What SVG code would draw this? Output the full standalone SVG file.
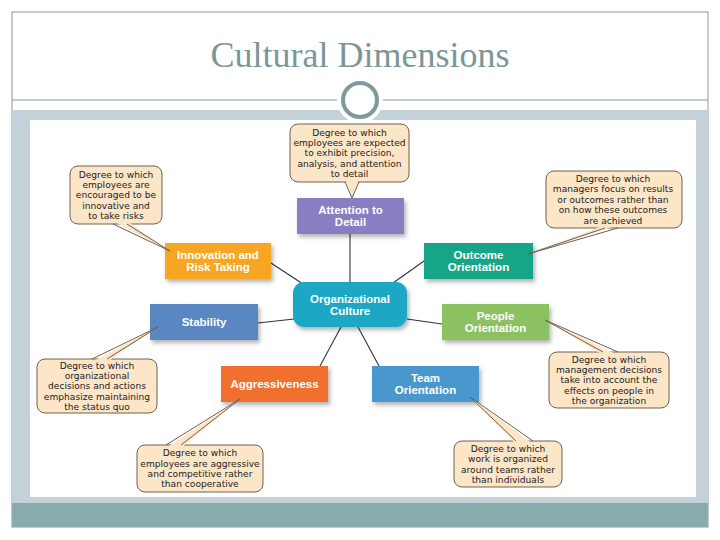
<svg xmlns="http://www.w3.org/2000/svg" width="720" height="540" viewBox="0 0 720 540">
<defs>
<filter id="sh" x="-20%" y="-20%" width="150%" height="160%">
<feDropShadow dx="2" dy="3" stdDeviation="2" flood-color="#000" flood-opacity="0.3"/>
</filter>
<style>
.node{filter:url(#sh);}
.nt{font-family:"Liberation Sans",Arial,sans-serif;font-weight:bold;font-size:11.5px;fill:#fff;text-anchor:middle;}
.co{fill:#fde6c8;stroke:#6e6050;stroke-width:1;}
.tf{fill:#fde6c8;stroke:none;}
.tl{fill:none;stroke:#6e6050;stroke-width:1;stroke-linejoin:miter;}
.ct{font-family:"DejaVu Sans","Liberation Sans",sans-serif;font-size:9.1px;fill:#222;text-anchor:middle;}
.conn line{stroke:#333;stroke-width:1.1;}
</style>
</defs>
<rect x="0" y="0" width="720" height="540" fill="#fff"/>
<rect x="12" y="12" width="696" height="515" fill="#fff" stroke="#8a9a9a" stroke-width="1"/>
<text x="360" y="67" font-family="'Liberation Serif','Times New Roman',serif" font-size="36" fill="#7b9696" text-anchor="middle">Cultural Dimensions</text>
<rect x="12" y="110" width="696" height="393" fill="#c5d1d8"/>
<rect x="30" y="120" width="666" height="377" fill="#fff"/>
<rect x="12" y="503" width="696" height="24" fill="#8aabab"/>
<line x1="12" y1="100" x2="708" y2="100" stroke="#8a9a9a" stroke-width="1"/>
<circle cx="360" cy="100" r="23" fill="#fff"/>
<circle cx="360" cy="100" r="17" fill="#fff" stroke="#7f9a9a" stroke-width="4"/>

<g id="connectors" class="conn">
<line x1="350" y1="282" x2="350" y2="234"/>
<line x1="303" y1="284" x2="271" y2="263"/>
<line x1="393" y1="283" x2="424" y2="261"/>
<line x1="294" y1="319" x2="258" y2="323"/>
<line x1="407" y1="319" x2="442" y2="324"/>
<line x1="341" y1="327" x2="320" y2="366"/>
<line x1="358" y1="327" x2="379" y2="366"/>
</g>

<g id="node-culture"><rect class="node" x="293" y="282" width="114" height="45" rx="11" fill="#1ba8c4"/><text class="nt" x="350" y="303">Organizational</text><text class="nt" x="350" y="315">Culture</text></g>
<g id="node-attention"><rect class="node" x="297" y="198" width="107" height="36" fill="#8a7ec2"/><text class="nt" x="350.5" y="214">Attention to</text><text class="nt" x="350.5" y="226">Detail</text></g>
<g id="node-innovation"><rect class="node" x="165" y="243" width="106" height="36" fill="#f6a623"/><text class="nt" x="218" y="259">Innovation and</text><text class="nt" x="218" y="271">Risk Taking</text></g>
<g id="node-outcome"><rect class="node" x="424" y="243" width="109" height="36" fill="#16a687"/><text class="nt" x="478.5" y="259">Outcome</text><text class="nt" x="478.5" y="271">Orientation</text></g>
<g id="node-stability"><rect class="node" x="150" y="304" width="108" height="36" fill="#5a87c2"/><text class="nt" x="204" y="326">Stability</text></g>
<g id="node-people"><rect class="node" x="442" y="304" width="107" height="36" fill="#8cc162"/><text class="nt" x="495.5" y="320">People</text><text class="nt" x="495.5" y="332">Orientation</text></g>
<g id="node-aggressiveness"><rect class="node" x="221" y="366" width="107" height="36" fill="#f2702d"/><text class="nt" x="274.5" y="388">Aggressiveness</text></g>
<g id="node-team"><rect class="node" x="372" y="366" width="107" height="36" fill="#4997cc"/><text class="nt" x="425.5" y="382">Team</text><text class="nt" x="425.5" y="394">Orientation</text></g>

<g id="callout-attention">
<rect class="co" x="290" y="124" width="119" height="58" rx="8"/>
<polygon class="tf" points="345,179 359,179 352,198"/>
<polyline class="tl" points="345,182 352,198 359,182"/>
<text class="ct" x="349.5" y="135.5">Degree to which</text>
<text class="ct" x="349.5" y="145.9">employees are expected</text>
<text class="ct" x="349.5" y="156.3">to exhibit precision,</text>
<text class="ct" x="349.5" y="166.7">analysis, and attention</text>
<text class="ct" x="349.5" y="177.1">to detail</text>
</g>
<g id="callout-innovation">
<rect class="co" x="70" y="166" width="92" height="58" rx="8"/>
<polygon class="tf" points="113,221 127,221 170,251"/>
<polyline class="tl" points="113,224 170,251 127,224"/>
<text class="ct" x="116" y="177.5">Degree to which</text>
<text class="ct" x="116" y="187.9">employees are</text>
<text class="ct" x="116" y="198.3">encouraged to be</text>
<text class="ct" x="116" y="208.7">innovative and</text>
<text class="ct" x="116" y="219.1">to take risks</text>
</g>
<g id="callout-outcome">
<rect class="co" x="546" y="171" width="136" height="57" rx="8"/>
<polygon class="tf" points="605,225 618,225 528,254"/>
<polyline class="tl" points="605,228 528,254 618,228"/>
<text class="ct" x="613" y="182">Degree to which</text>
<text class="ct" x="613" y="192.4">managers focus on results</text>
<text class="ct" x="613" y="202.8">or outcomes rather than</text>
<text class="ct" x="613" y="213.2">on how these outcomes</text>
<text class="ct" x="613" y="223.6">are achieved</text>
</g>
<g id="callout-stability">
<rect class="co" x="37" y="359" width="120" height="54" rx="8"/>
<polygon class="tf" points="92,362 107,362 158,327"/>
<polyline class="tl" points="92,359 158,327 107,359"/>
<text class="ct" x="97" y="368.5">Degree to which</text>
<text class="ct" x="97" y="378.9">organizational</text>
<text class="ct" x="97" y="389.3">decisions and actions</text>
<text class="ct" x="97" y="399.7">emphasize maintaining</text>
<text class="ct" x="97" y="410.1">the status quo</text>
</g>
<g id="callout-people">
<rect class="co" x="549" y="352" width="120" height="56" rx="8"/>
<polygon class="tf" points="603,355 618,355 545,320"/>
<polyline class="tl" points="603,352 545,320 618,352"/>
<text class="ct" x="609" y="362.5">Degree to which</text>
<text class="ct" x="609" y="372.9">management decisions</text>
<text class="ct" x="609" y="383.3">take into account the</text>
<text class="ct" x="609" y="393.7">effects on people in</text>
<text class="ct" x="609" y="404.1">the organization</text>
</g>
<g id="callout-aggressiveness">
<rect class="co" x="137" y="445" width="126" height="47" rx="8"/>
<polygon class="tf" points="166,448 181,448 240,399"/>
<polyline class="tl" points="166,445 240,399 181,445"/>
<text class="ct" x="200" y="456.2">Degree to which</text>
<text class="ct" x="200" y="466.6">employees are aggressive</text>
<text class="ct" x="200" y="477">and competitive rather</text>
<text class="ct" x="200" y="487.4">than cooperative</text>
</g>
<g id="callout-team">
<rect class="co" x="454" y="441" width="108" height="46" rx="8"/>
<polygon class="tf" points="516,444 533,444 470,397"/>
<polyline class="tl" points="516,441 470,397 533,441"/>
<text class="ct" x="508" y="451.7">Degree to which</text>
<text class="ct" x="508" y="462.1">work is organized</text>
<text class="ct" x="508" y="472.5">around teams rather</text>
<text class="ct" x="508" y="482.9">than individuals</text>
</g>
</svg>
